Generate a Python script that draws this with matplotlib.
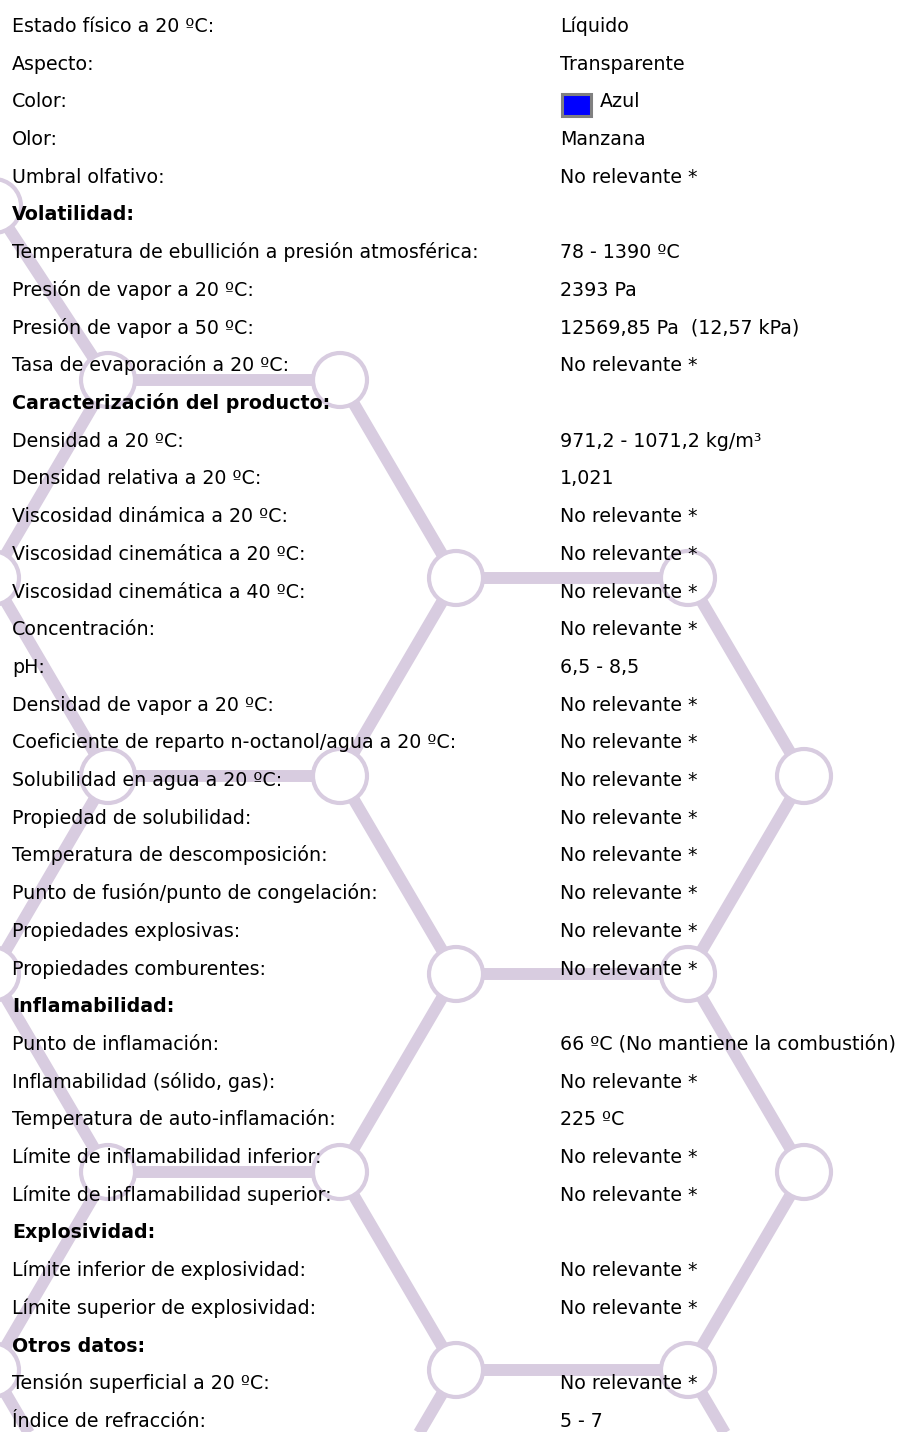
import matplotlib
matplotlib.use("Agg")
import matplotlib.pyplot as plt
from matplotlib.patches import Circle, Rectangle

# rows of the data sheet: label, value (None = section header)
labels = [
    "Estado físico a 20 ºC:", "Aspecto:", "Color:", "Olor:", "Umbral olfativo:",
    "Volatilidad:",
    "Temperatura de ebullición a presión atmosférica:", "Presión de vapor a 20 ºC:",
    "Presión de vapor a 50 ºC:", "Tasa de evaporación a 20 ºC:",
    "Caracterización del producto:",
    "Densidad a 20 ºC:", "Densidad relativa a 20 ºC:", "Viscosidad dinámica a 20 ºC:",
    "Viscosidad cinemática a 20 ºC:", "Viscosidad cinemática a 40 ºC:", "Concentración:",
    "pH:", "Densidad de vapor a 20 ºC:", "Coeficiente de reparto n-octanol/agua a 20 ºC:",
    "Solubilidad en agua a 20 ºC:", "Propiedad de solubilidad:",
    "Temperatura de descomposición:", "Punto de fusión/punto de congelación:",
    "Propiedades explosivas:", "Propiedades comburentes:",
    "Inflamabilidad:",
    "Punto de inflamación:", "Inflamabilidad (sólido, gas):",
    "Temperatura de auto-inflamación:", "Límite de inflamabilidad inferior:",
    "Límite de inflamabilidad superior:",
    "Explosividad:",
    "Límite inferior de explosividad:", "Límite superior de explosividad:",
    "Otros datos:",
    "Tensión superficial a 20 ºC:", "Índice de refracción:",
]
NR = "No relevante *"
values = [
    "Líquido", "Transparente", "Azul", "Manzana", NR,
    None,
    "78 - 1390 ºC", "2393 Pa", "12569,85 Pa  (12,57 kPa)", NR,
    None,
    "971,2 - 1071,2 kg/m³", "1,021", NR, NR, NR, NR, "6,5 - 8,5", NR, NR, NR, NR, NR, NR, NR, NR,
    None,
    "66 ºC (No mantiene la combustión)", NR, "225 ºC", NR, NR,
    None,
    NR, NR,
    None,
    NR, "5 - 7",
]
swatch_row = "Color:"
swatch_color = "#0000ff"

# background molecule: lattice nodes (column, row) and bonds
node_cols = {"A": -0.5, "B": 0.0, "C": 1.0, "D": 1.5, "E": 2.5, "F": 3.0}
bonds = [
    ("A0", "B1"), ("B1", "C1"), ("B1", "A2"), ("C1", "D2"), ("D2", "E2"), ("D2", "C3"),
    ("E2", "F3"), ("A2", "B3"), ("B3", "C3"), ("C3", "D4"), ("B3", "A4"), ("F3", "E4"),
    ("D4", "E4"), ("D4", "C5"), ("E4", "F5"), ("A4", "B5"), ("B5", "C5"), ("C5", "D6"),
    ("F5", "E6"), ("D6", "E6"), ("B5", "A6"), ("D6", "C7"), ("E6", "F7"), ("A6", "B7"),
]
# the top-left atom sits a bit off the lattice
nudge = {"A0": (2, 24)}

W, H = 906, 1432
BOND = 232.0
X0, Y0, DY = 108.0, 380.0, 198.0
LAV = "#d8cce0"


def node_xy(name):
    dx, dy = nudge.get(name, (0, 0))
    return X0 + node_cols[name[0]] * BOND + dx, Y0 + (int(name[1:]) - 1) * DY + dy


fig = plt.figure(figsize=(W / 100, H / 100), dpi=100)
ax = fig.add_axes([0, 0, 1, 1])
ax.set_xlim(0, W)
ax.set_ylim(H, 0)
ax.axis("off")

nodes = set()
for a, b in bonds:
    (x1, y1), (x2, y2) = node_xy(a), node_xy(b)
    ax.plot([x1, x2], [y1, y2], color=LAV, lw=8.6, solid_capstyle="butt", zorder=1)
    nodes.update([a, b])
for n in nodes:
    ax.add_patch(Circle(node_xy(n), 27, facecolor="white", edgecolor=LAV, lw=3.0, zorder=2))

plt.rcParams["font.family"] = ["DejaVu Sans"]
LX, VX = 12, 560
BASE, STEP = 32.0, 37.7
FS = 13.7
for i, (lab, val) in enumerate(zip(labels, values)):
    y = BASE + i * STEP
    if val is None:
        ax.text(LX, y, lab, fontsize=FS, fontweight="bold", va="baseline", ha="left", zorder=3)
        continue
    ax.text(LX, y, lab, fontsize=FS, va="baseline", ha="left", zorder=3)
    vx = VX
    if lab == swatch_row:
        ax.add_patch(Rectangle((VX + 1.5, y - 13.5), 29, 22, facecolor=swatch_color,
                               edgecolor="#808080", lw=2.2, zorder=3))
        vx = VX + 40
    ax.text(vx, y, val, fontsize=FS, va="baseline", ha="left", zorder=3)

fig.savefig("out.png", dpi=100, facecolor="white")
